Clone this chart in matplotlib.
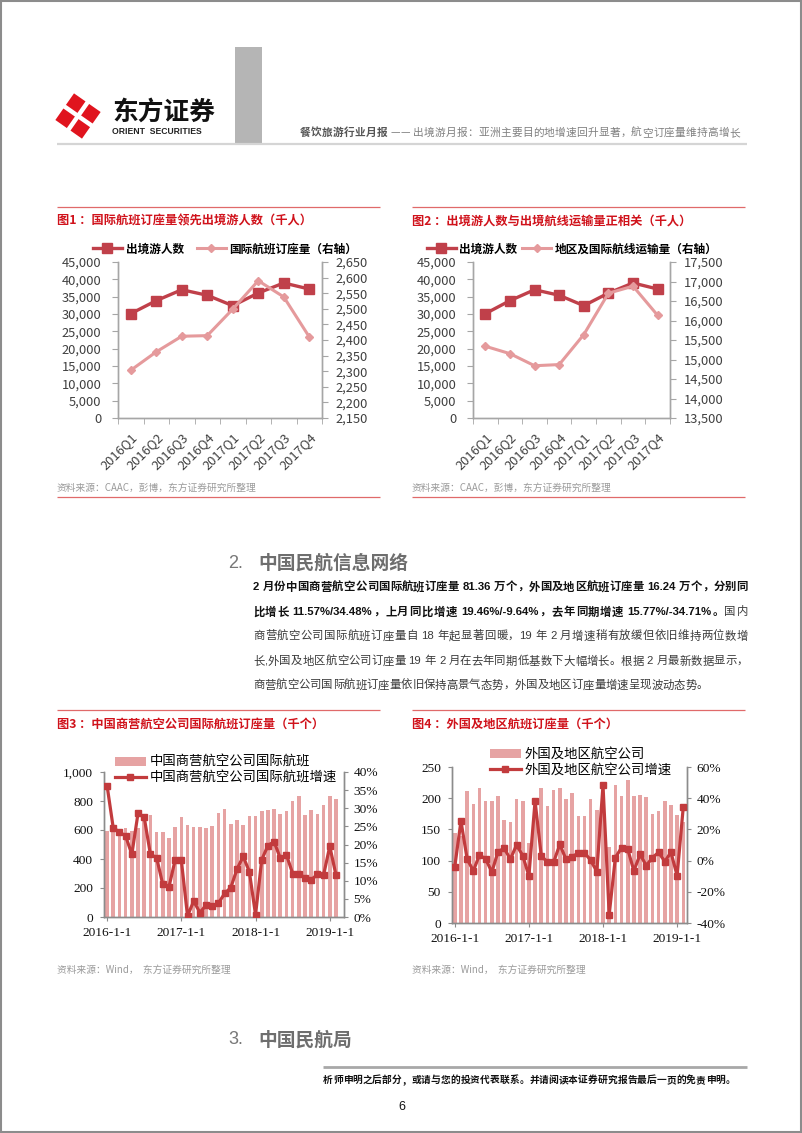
import re
import numpy as np
import matplotlib
matplotlib.use('Agg')
import matplotlib.pyplot as plt
from matplotlib.patches import Rectangle, Polygon, Patch
from matplotlib.lines import Line2D
from matplotlib.ticker import FuncFormatter, MultipleLocator

# ---------------- data ----------------
quarters = ['2016Q1', '2016Q2', '2016Q3', '2016Q4', '2017Q1', '2017Q2', '2017Q3', '2017Q4']
outbound_tourists = [30100, 33850, 37000, 35400, 32400, 36050, 38950, 37200]
intl_bookings_q = [2303, 2362, 2412, 2414, 2499, 2590, 2538, 2410]
intl_transport_q = [15340, 15150, 14840, 14870, 15640, 16700, 16880, 16130]

month_ticks = [0, 12, 24, 36]
month_tick_labels = ['2016-1-1', '2017-1-1', '2018-1-1', '2019-1-1']

cn_bookings = [595, 611, 598, 611, 595, 611, 703, 703, 588, 588, 547, 621,
               692, 632, 618, 618, 616, 628, 715, 747, 639, 669, 634, 699,
               697, 731, 738, 747, 713, 731, 800, 834, 703, 736, 708, 775,
               832, 814]
cn_growth = [36.2, 24.5, 23.5, 22.3, 17.3, 28.6, 27.5, 17.3, 16.4, 9.0, 8.3, 15.7,
             15.7, 0.3, 4.4, 1.2, 3.3, 2.9, 3.8, 6.5, 8.1, 13.2, 16.7, 12.5,
             0.6, 15.8, 19.7, 20.8, 16.2, 17.1, 12.0, 12.0, 10.7, 10.2, 11.8, 11.6,
             19.5, 11.6]

fr_bookings = [144, 140, 211, 190, 216, 196, 196, 204, 165, 162, 198, 195,
               129, 185, 217, 188, 213, 217, 198, 208, 172, 171, 199, 181,
               191, 121, 221, 204, 229, 203, 205, 202, 174, 180, 196, 189,
               173, 162]
fr_growth = [-3.8, 25.3, 1.1, -6.6, 3.6, 1.1, -7.4, 5.7, 7.9, 0.9, 10.0, 3.2,
             -9.8, 38.1, 3.2, -1.1, -1.1, 10.4, 0.9, 2.6, 4.7, 5.1, 0.2, -7.0,
             48.3, -34.7, 1.9, 8.3, 7.4, -6.6, 4.0, -3.2, 1.9, 5.3, -0.6, 5.3,
             -9.6, 34.5]

# ---------------- setup ----------------
W, H = 802, 1133
CJK = ['Noto Sans CJK SC', 'DejaVu Sans']
BODY = ['Liberation Sans', 'Noto Sans CJK SC', 'DejaVu Sans']
SERIF = ['Liberation Serif', 'DejaVu Serif']
plt.rcParams['font.family'] = CJK
plt.rcParams['axes.unicode_minus'] = False

RED_TITLE = '#D0121B'
DARK = '#C0404A'
PINK = '#E59A9C'
BAR = '#E6A3A3'
LINE = '#C23B3D'

fig = plt.figure(figsize=(W / 100, H / 100), dpi=100)
bg = fig.add_axes([0, 0, 1, 1])
bg.set_xlim(0, W)
bg.set_ylim(H, 0)
bg.axis('off')
renderer = fig.canvas.get_renderer()


def axes_px(l, t, r, b):
    return fig.add_axes([l / W, 1 - b / H, (r - l) / W, (b - t) / H])


def hline(x0, x1, y, color, lw):
    bg.plot([x0, x1], [y, y], color=color, lw=lw, solid_capstyle='butt')


def run_text(y, x0, x1, segments, size, family=BODY, justify=True, space=3.0):
    items = []
    for text, weight, color in segments:
        for tok in re.findall(r' ?(?:[\x21-\x7e]+|[^\x00-\x7f])', text):
            sp = tok.startswith(' ')
            t = bg.text(0, y, tok.strip(), fontsize=size, fontweight=weight,
                        color=color, va='center', ha='left', family=family)
            w = t.get_window_extent(renderer).width
            items.append([t, w, sp])
    total = sum(i[1] for i in items) + space * sum(i[2] for i in items)
    n = len(items)
    gap = (x1 - x0 - total) / (n - 1) if (justify and n > 1) else 0.0
    x = x0
    for t, w, sp in items:
        if sp:
            x += space
        t.set_x(x)
        x += w + gap


# ---------------- page frame & header ----------------
bg.add_patch(Rectangle((0.5, 0.5), W - 1.5, H - 1.5, fill=False, ec='#8C8C8C', lw=1.5))
bg.add_patch(Rectangle((235, 47), 27, 96, color='#B5B5B5', lw=0))
hline(57, 747, 143.5, '#D5D5D5', 1.6)

# logo: red diamond cut into four tiles
cx, cy, r = 78, 116, 23
ang = np.deg2rad(np.array([100, 190, 280, 10]))
bg.add_patch(Polygon(np.c_[cx + r * np.cos(ang), cy - r * np.sin(ang)], closed=True,
                     color='#E0141E', lw=0))
for a in (55, 145):
    aa = np.deg2rad(a)
    bg.plot([cx - 26 * np.cos(aa), cx + 26 * np.cos(aa)],
            [cy + 26 * np.sin(aa), cy - 26 * np.sin(aa)], color='white', lw=3.2)
bg.text(112, 112, '东方证券', fontsize=18.5, fontweight='bold', color='#111111',
        va='center', ha='left', family=CJK)
bg.text(112, 131.5, 'ORIENT  SECURITIES', fontsize=6.2, fontweight='bold', color='#222222',
        va='center', ha='left', family=['Liberation Sans', 'DejaVu Sans'])
run_text(133, 300, 740, [('餐饮旅游行业月报', 'bold', '#555555'),
                         (' —— 出境游月报：亚洲主要目的地增速回升显著，航空订座量维持高增长', 'normal', '#808080')],
         size=7.7, family=CJK)


# ---------------- chart helpers ----------------
def chart_frame(x0, x1, title, src, ytitle, ysrc, ybottom=None):
    hline(x0, x1, ytitle - 14, '#E06A6A', 0.9)
    bg.text(x0, ytitle, title, fontsize=8.8, fontweight='bold', color=RED_TITLE,
            va='center', ha='left', family=CJK)
    bg.text(x0, ysrc, src, fontsize=7, color='#9A9A9A', va='center', ha='left', family=CJK)
    if ybottom is not None:
        hline(x0, x1, ybottom, '#E06A6A', 0.9)


def quarter_chart(box, right_vals, ylim_r, rstep, right_label, legend_cx, colsp):
    ax = axes_px(*box)
    x = np.arange(len(quarters))
    ax.plot(x, outbound_tourists, color=DARK, lw=2.4, marker='s', ms=7.5, zorder=3)
    ax.set_xlim(-0.5, len(quarters) - 0.5)
    ax.set_ylim(0, 45000)
    ax.yaxis.set_major_locator(MultipleLocator(5000))
    ax.yaxis.set_major_formatter(FuncFormatter(lambda v, p: f'{v:,.0f}'))
    ax2 = ax.twinx()
    ax2.plot(x, right_vals, color=PINK, lw=2.2, marker='D', ms=4.5, zorder=3)
    ax2.set_ylim(*ylim_r)
    ax2.yaxis.set_major_locator(MultipleLocator(rstep))
    ax2.yaxis.set_major_formatter(FuncFormatter(lambda v, p: f'{v:,.0f}'))
    for a in (ax, ax2):
        a.spines['top'].set_visible(False)
        for s in ('left', 'right', 'bottom'):
            a.spines[s].set_color('#A6A6A6')
            a.spines[s].set_linewidth(1.0)
        a.patch.set_visible(False)
    ax.set_xticks(x)
    ax.set_xticklabels(quarters, rotation=45, ha='right', va='top', rotation_mode='anchor',
                       fontsize=9.3, color='#404040')
    ax.tick_params(axis='x', length=0, pad=9)
    ax.set_xticks(np.arange(-0.5, len(quarters), 1), minor=True)
    ax.tick_params(axis='x', which='minor', length=4, color='#A6A6A6', direction='out')
    ax.tick_params(axis='y', length=4, color='#A6A6A6', labelsize=9.3, labelcolor='#404040', pad=8)
    ax2.tick_params(axis='y', length=4, color='#A6A6A6', labelsize=9.3, labelcolor='#404040', pad=6)
    handles = [Line2D([], [], color=DARK, lw=2.4, marker='s', ms=7.5),
               Line2D([], [], color=PINK, lw=2.2, marker='D', ms=4.5)]
    fig.legend(handles, ['出境游人数', right_label], loc='center', ncol=2, frameon=False,
               bbox_to_anchor=(legend_cx / W, 1 - 249 / H),
               prop=dict(family=CJK, weight='bold', size=8.4),
               handlelength=2.5, handletextpad=0.3, columnspacing=colsp)


def month_chart(box, bars, growth, ylim_l, lstep, lfmt, ylim_r, rstep, xlim, labels, leg_anchor):
    ax = axes_px(*box)
    x = np.arange(len(bars))
    ax.bar(x, bars, width=0.58, color=BAR, lw=0, zorder=2)
    ax.set_xlim(*xlim)
    ax.set_ylim(*ylim_l)
    ax.yaxis.set_major_locator(MultipleLocator(lstep))
    ax.yaxis.set_major_formatter(FuncFormatter(lfmt))
    ax2 = ax.twinx()
    ax2.plot(x, growth, color=LINE, lw=2.3, marker='s', ms=4.2, zorder=3)
    ax2.set_ylim(*ylim_r)
    ax2.yaxis.set_major_locator(MultipleLocator(rstep))
    ax2.yaxis.set_major_formatter(FuncFormatter(lambda v, p: f'{v:.0f}%'))
    for a in (ax, ax2):
        a.spines['top'].set_visible(False)
        for s in ('left', 'right', 'bottom'):
            a.spines[s].set_color('#8C8C8C')
            a.spines[s].set_linewidth(1.0)
        a.patch.set_visible(False)
    ax.set_xticks(month_ticks)
    ax.set_xticklabels(month_tick_labels, family=SERIF, fontsize=9.6, color='#111111')
    ax.tick_params(axis='x', length=3, color='#8C8C8C', pad=4)
    for a, pad in ((ax, 5), (ax2, 4)):
        a.tick_params(axis='y', length=3, color='#8C8C8C', pad=pad, labelsize=9.6, labelcolor='#111111')
        for lab in a.get_yticklabels():
            lab.set_family(SERIF)
    handles = [Patch(color=BAR, lw=0), Line2D([], [], color=LINE, lw=2.3, marker='s', ms=4.2)]
    fig.legend(handles, labels, loc='upper left', frameon=False,
               bbox_to_anchor=(leg_anchor[0] / W, 1 - leg_anchor[1] / H),
               prop=dict(family=CJK, size=9.6), handlelength=2.3, handletextpad=0.3,
               labelspacing=0.12, borderaxespad=0, borderpad=0)


# ---------------- chart 1 & 2 ----------------
chart_frame(57, 380, '图1 ：国际航班订座量领先出境游人数（千人）',
            '资料来源：CAAC，彭博，东方证券研究所整理', 221, 488, 497)
chart_frame(412, 745, '图2 ：出境游人数与出境航线运输量正相关（千人）',
            '资料来源：CAAC，彭博，东方证券研究所整理', 221, 488, 497)
quarter_chart((118, 262, 322, 418), intl_bookings_q, (2150, 2650), 50,
              '国际航班订座量（右轴）', 225, 1.1)
quarter_chart((473, 262, 670, 418), intl_transport_q, (13500, 17500), 500,
              '地区及国际航线运输量（右轴）', 572, 0.4)

# ---------------- section 2 text ----------------
bg.text(228, 563, '2.', fontsize=13, color='#777777', va='center', ha='left', family=BODY)
bg.text(258, 563, '中国民航信息网络', fontsize=13.5, fontweight='bold', color='#6E6E6E',
        va='center', ha='left', family=CJK)
BLK, TXT = '#111111', '#3A3A3A'
run_text(587, 253, 748, [('2 月份中国商营航空公司国际航班订座量 81.36 万个，外国及地区航班订座量 16.24 万个，分别同', 'bold', BLK)], 8.2)
run_text(612, 253, 748, [('比增长 11.57%/34.48%，上月同比增速 19.46%/-9.64%，去年同期增速 15.77%/-34.71%。', 'bold', BLK),
                         ('国内', 'normal', TXT)], 8.2)
run_text(636, 253, 748, [('商营航空公司国际航班订座量自 18 年起显著回暖，19 年 2 月增速稍有放缓但依旧维持两位数增', 'normal', TXT)], 8.2)
run_text(661, 253, 748, [('长,外国及地区航空公司订座量 19 年 2 月在去年同期低基数下大幅增长。根据 2 月最新数据显示，', 'normal', TXT)], 8.2)
run_text(685, 253, 748, [('商营航空公司国际航班订座量依旧保持高景气态势，外国及地区订座量增速呈现波动态势。', 'normal', TXT)], 8.2,
         justify=False)

# ---------------- chart 3 & 4 ----------------
chart_frame(57, 380, '图3 ：中国商营航空公司国际航班订座量（千个）',
            '资料来源：Wind，  东方证券研究所整理', 724, 970)
chart_frame(412, 745, '图4 ：外国及地区航班订座量（千个）',
            '资料来源：Wind，  东方证券研究所整理', 724, 970)
month_chart((104, 772, 344, 917), cn_bookings, cn_growth, (0, 1000), 200,
            lambda v, p: f'{v:,.0f}', (0, 40), 5, (-0.5, 38.3),
            ['中国商营航空公司国际航班', '中国商营航空公司国际航班增速'], (115, 755))
month_chart((452, 767, 687, 923), fr_bookings, fr_growth, (0, 250), 50,
            lambda v, p: f'{v:.0f}', (-40, 60), 20, (-0.45, 37.6),
            ['外国及地区航空公司', '外国及地区航空公司增速'], (490, 747))

# ---------------- section 3 & footer ----------------
bg.text(228, 1040, '3.', fontsize=13, color='#777777', va='center', ha='left', family=BODY)
bg.text(258, 1040, '中国民航局', fontsize=13.5, fontweight='bold', color='#6E6E6E',
        va='center', ha='left', family=CJK)
hline(323, 747, 1067, '#A8A8A8', 2.0)
run_text(1080, 323, 735, [('析师申明之后部分，或请与您的投资代表联系。并请阅读本证券研究报告最后一页的免责申明。', 'bold', '#111111')],
         7.0, family=CJK)
bg.text(402, 1107, '6', fontsize=9, color='#111111', va='center', ha='center',
        family=['Liberation Sans', 'DejaVu Sans'])

fig.savefig('out.png', dpi=100)
